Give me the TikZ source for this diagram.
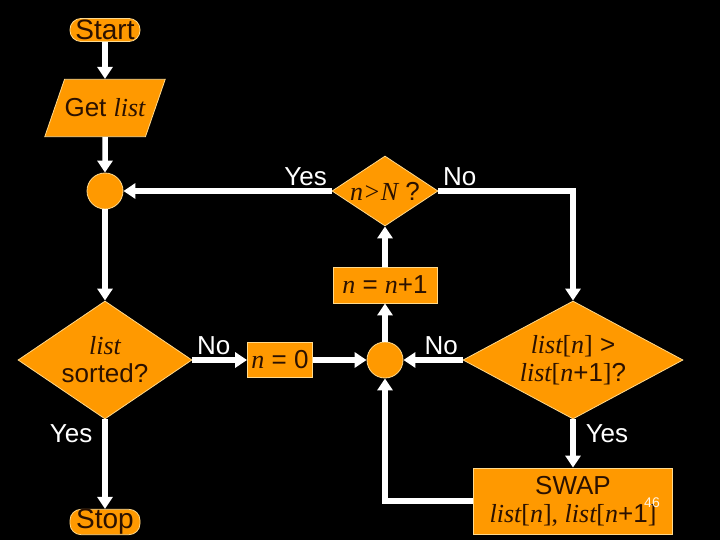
\documentclass[tikz,border=0pt]{standalone}
\usepackage{fontspec}
\setmainfont{Liberation Sans}
\newfontfamily\tmsfont{Liberation Serif}
\newcommand{\mv}[1]{{\tmsfont\itshape #1}}
\newcommand{\br}[1]{{\tmsfont #1}}
\usetikzlibrary{
    shapes.geometric,
    arrows.meta,
    positioning
}
\definecolor{boxfill}{HTML}{FF9900}
\definecolor{boxline}{HTML}{FFD98C}
\definecolor{boxtext}{HTML}{2B1100}

\begin{document}
\begin{tikzpicture}[x=1pt, y=-1pt,
    font=\fontsize{26}{28}\selectfont,
    base/.style={fill=boxfill, draw=boxline, line width=0.8pt, text=boxtext, inner sep=0pt},
    term/.style={base, rectangle, rounded corners=11pt, minimum width=70pt, minimum height=23pt, font=\fontsize{28}{30}\selectfont},
    io/.style={base, trapezium, trapezium left angle=71, trapezium right angle=109, inner xsep=0pt, inner ysep=19.5pt},
    proc/.style={base, rectangle, align=center},
    decide/.style={base, diamond, align=center},
    joint/.style={base, circle, minimum size=36pt},
    lbl/.style={text=white, inner sep=2pt},
    arr/.style={draw=white, line width=5.5pt, -{Triangle[width=15pt,length=12pt]}}
]
    \fill[black] (0,0) rectangle (720,540);

    \node[term] (start) at (105,30) {Start};
    \node[io] (getl) at (105,108) {Get \mv{list}};
    \node[joint] (c1) at (105,191) {};
    \node[decide, aspect=1.51, minimum width=106pt, minimum height=70pt] (test) at (385,191) {\mv{n>N} ?};
    \node[decide, aspect=1.47, minimum width=174pt, minimum height=118pt] (sorted) at (105,360) {\mv{list}\\sorted?};
    \node[proc, minimum width=65pt, minimum height=35pt] (n0) at (280,360) {\mv{n} = 0};
    \node[joint] (c2) at (385,360) {};
    \node[proc, minimum width=104pt, minimum height=36pt] (inc) at (385,285) {\mv{n} = \mv{n}+1};
    \node[decide, aspect=1.86, minimum width=220pt, minimum height=118pt] (swapq) at (573,360)
        {\mv{list}\br{[}\mv{n}\br{]} >\\\mv{list}\br{[}\mv{n}+1\br{]}?};
    \node[proc, minimum width=199pt, minimum height=66pt] (swap) at (573,501)
        {SWAP\\\mv{list}\br{[}\mv{n}\br{], }\mv{list}\br{[}\mv{n}+1\br{]}};
    \node[term] (stop) at (105,522) {Stop};
    \node[text=white!90!boxfill, font=\fontsize{14}{16}\selectfont] (pageno) at (652,503) {46};

    \draw[arr] (start) -- (getl);
    \draw[arr] (getl) -- (c1);
    \draw[arr] (test) -- node[lbl, pos=0, above left] {Yes} (c1);
    \draw[arr] (c1) -- (sorted);
    \draw[arr] (sorted) -- node[lbl, pos=0, above right] {No} (n0);
    \draw[arr] (sorted) -- node[lbl, pos=0, below left, xshift=-8pt] {Yes} (stop);
    \draw[arr] (n0) -- (c2);
    \draw[arr] (c2) -- (inc);
    \draw[arr] (inc) -- (test);
    \draw[arr] (test.east) -| node[lbl, pos=0, above right] {No} (swapq.north);
    \draw[arr] (swapq) -- node[lbl, pos=0, above left] {No} (c2);
    \draw[arr] (swapq) -- node[lbl, pos=0, below right, xshift=8pt] {Yes} (swap);
    \draw[arr] (swap.west) -| (c2.south);
\end{tikzpicture}
\end{document}
